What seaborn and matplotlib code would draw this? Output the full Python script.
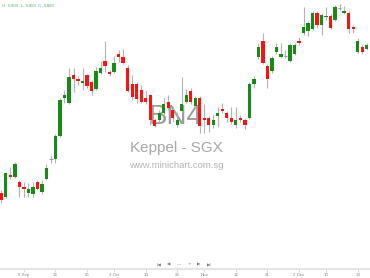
import numpy as np
import pandas as pd
import matplotlib
matplotlib.use("Agg")
import matplotlib.pyplot as plt
import seaborn as sns

# ---- data (Keppel BN4, daily OHLC, trading-day index) ----
opens = [6.458, 6.448, 6.503, 6.498, 6.485, 6.473, 6.458, 6.455, 6.485, 6.460,
         6.493, 6.543, 6.543, 6.600, 6.695, 6.683, 6.753, 6.743, 6.733, 6.753,
         6.735, 6.718, 6.758, 6.788, 6.760, 6.760, 6.805, 6.798, 6.770, 6.730,
         6.730, 6.715, 6.695, 6.703, 6.640, 6.640, 6.658, 6.685, 6.665, 6.628,
         6.663, 6.685, 6.713, 6.675, 6.695, 6.645, 6.645, 6.628, 6.650, 6.668,
         6.658, 6.645, 6.628, 6.645, 6.640, 6.645, 6.730, 6.798, 6.838, 6.775,
         6.763, 6.810, 6.798, 6.800, 6.788, 6.805, 6.838, 6.858, 6.863, 6.868,
         6.908, 6.878, 6.898, 6.900, 6.890, 6.920, 6.908, 6.908, 6.873, 6.810,
         6.823, 6.818, 6.850]
highs = [6.465, 6.510, 6.523, 6.535, 6.490, 6.485, 6.483, 6.485, 6.490, 6.490,
         6.530, 6.553, 6.605, 6.695, 6.715, 6.770, 6.770, 6.750, 6.770, 6.755,
         6.740, 6.773, 6.788, 6.838, 6.765, 6.800, 6.815, 6.818, 6.778, 6.753,
         6.735, 6.728, 6.715, 6.705, 6.645, 6.665, 6.695, 6.703, 6.675, 6.660,
         6.748, 6.718, 6.720, 6.700, 6.700, 6.680, 6.650, 6.653, 6.673, 6.683,
         6.663, 6.673, 6.673, 6.653, 6.645, 6.735, 6.750, 6.833, 6.858, 6.780,
         6.800, 6.833, 6.833, 6.815, 6.833, 6.833, 6.848, 6.923, 6.888, 6.913,
         6.913, 6.908, 6.923, 6.905, 6.928, 6.930, 6.925, 6.913, 6.878, 6.845,
         6.828, 6.833, 6.900]
lows = [6.433, 6.445, 6.493, 6.495, 6.448, 6.448, 6.448, 6.448, 6.465, 6.455,
        6.490, 6.533, 6.533, 6.598, 6.683, 6.680, 6.710, 6.728, 6.715, 6.720,
        6.703, 6.715, 6.755, 6.760, 6.750, 6.758, 6.785, 6.780, 6.710, 6.690,
        6.683, 6.683, 6.680, 6.628, 6.623, 6.635, 6.653, 6.665, 6.635, 6.623,
        6.658, 6.683, 6.680, 6.670, 6.608, 6.608, 6.610, 6.620, 6.623, 6.658,
        6.635, 6.630, 6.620, 6.635, 6.618, 6.643, 6.720, 6.793, 6.780, 6.720,
        6.758, 6.805, 6.795, 6.795, 6.785, 6.803, 6.828, 6.853, 6.850, 6.865,
        6.870, 6.853, 6.890, 6.868, 6.888, 6.915, 6.905, 6.858, 6.858, 6.808,
        6.805, 6.815, 6.850]
closes = [6.440, 6.508, 6.498, 6.530, 6.473, 6.468, 6.468, 6.473, 6.468, 6.480,
          6.520, 6.543, 6.600, 6.690, 6.703, 6.748, 6.743, 6.738, 6.738, 6.725,
          6.713, 6.763, 6.770, 6.775, 6.755, 6.783, 6.798, 6.783, 6.713, 6.698,
          6.693, 6.685, 6.685, 6.640, 6.625, 6.658, 6.680, 6.670, 6.645, 6.640,
          6.680, 6.703, 6.685, 6.695, 6.625, 6.640, 6.628, 6.640, 6.658, 6.663,
          6.645, 6.635, 6.640, 6.640, 6.628, 6.730, 6.743, 6.823, 6.783, 6.743,
          6.795, 6.823, 6.805, 6.800, 6.828, 6.828, 6.833, 6.873, 6.883, 6.908,
          6.878, 6.903, 6.900, 6.870, 6.923, 6.920, 6.913, 6.868, 6.868, 6.838,
          6.810, 6.828, 6.880]

tick_positions = [5, 12, 19, 25, 32, 39, 45, 52, 59, 66, 72, 79]
tick_labels = ["5 Sep", "16", "25", "3 Oct", "14", "23", "Nov", "12", "21",
               "2 Dec", "10", "19"]

df = pd.DataFrame({"open": opens, "high": highs, "low": lows, "close": closes})
df["idx"] = np.arange(len(df))

GREEN = "#168c16"
RED = "#ff1010"
WICK = "#b4b4b4"

sns.set_theme(style="white")
plt.rcParams["font.family"] = ["Liberation Sans", "DejaVu Sans"]

fig = plt.figure(figsize=(3.7, 2.78), dpi=100)
ax = fig.add_axes([0, 9 / 278, 1, 269 / 278])
ax.set_facecolor("white")

# watermark
ax.text(0.476, 1 - 117 / 269, "BN4", transform=ax.transAxes, ha="center",
        va="center", fontsize=20, color="#9c9c9c", zorder=1)
ax.text(0.476, 1 - 148 / 269, "Keppel - SGX", transform=ax.transAxes,
        ha="center", va="center", fontsize=11, color="#a8a8a8", zorder=1)
ax.text(0.476, 1 - 165.5 / 269, "www.minichart.com.sg", transform=ax.transAxes,
        ha="center", va="center", fontsize=6.8, color="#b4b4b4", zorder=1)

# wicks
ax.vlines(df["idx"], df["low"], df["high"], color=WICK, linewidth=0.8, zorder=2)

# bodies
bw = 0.72
for _, r in df.iterrows():
    o, c = r["open"], r["close"]
    if abs(c - o) < 1e-9:
        ax.hlines(o, r["idx"] - bw / 2, r["idx"] + bw / 2, color="#999999",
                  linewidth=0.8, zorder=3)
        continue
    col = GREEN if c > o else RED
    ax.bar(r["idx"], abs(c - o), bottom=min(o, c), width=bw, color=col,
           edgecolor="none", linewidth=0, zorder=3)

ax.set_xlim(-0.3, 81.74)
ax.set_ylim(6.2675, 6.94)

sns.despine(ax=ax, left=True, right=True, top=True, bottom=False)
ax.spines["bottom"].set_color("#e4e4e4")
ax.spines["bottom"].set_linewidth(1.5)
ax.set_yticks([])
ax.set_xticks(tick_positions)
ax.set_xticklabels(tick_labels)
ax.tick_params(axis="x", direction="out", length=2, width=0.5, color="#c8c8c8",
               labelsize=3.2, labelcolor="#888888", pad=1.2, bottom=True)
ax.grid(False)

# navigation buttons
btns = ["|◀", "◀", "—", "+", "▶", "▶|"]
for k, b in enumerate(btns):
    fig.text((159 + 10 * k) / 370, 1 - 264 / 278, b, ha="center", va="center",
             fontsize=3.2, color="#777777", family=["DejaVu Sans"])

# OHLC info
info = [("H:", 2, "#999999"), ("6.900", 8, "#5cb85c"), ("L:", 21, "#999999"),
        ("6.850", 26, "#5cb85c"), ("C:", 38, "#999999"), ("6.880", 44, "#5cb85c")]
for t, xp, col in info:
    fig.text(xp / 370, 1 - 6 / 278, t, ha="left", va="center", fontsize=3.2,
             color=col)

fig.savefig("out.png", dpi=100)
